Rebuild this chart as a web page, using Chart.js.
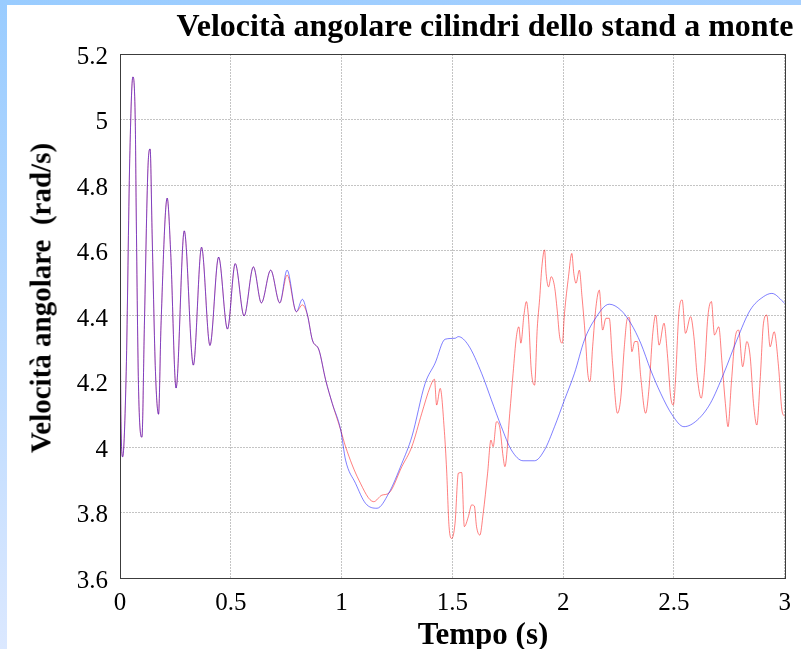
<!DOCTYPE html>
<html>
<head>
<meta charset="utf-8">
<title>Velocità angolare cilindri dello stand a monte</title>
<script src="https://cdn.jsdelivr.net/npm/chart.js@4.4.1/dist/chart.umd.min.js"></script>
<style>
  html, body { margin: 0; padding: 0; background: #fff; }
  #wrap { position: relative; width: 801px; height: 649px; overflow: hidden; background: #fff; }
  #bandTop { position: absolute; left: 0; top: 0; width: 801px; height: 5px; background: linear-gradient(to right, #99ccff, #a6d0ff); }
  #bandLeft { position: absolute; left: 0; top: 0; width: 7px; height: 649px; background: linear-gradient(#99ccff, #dbe8ff); }
  #plot { position: absolute; left: 0; top: 0; }
  .lbl { position: absolute; font-family: "Liberation Serif", "Times New Roman", serif; font-weight: bold;
         font-size: 31px; line-height: 1; color: #000; white-space: pre; }
  #title { left: 485px; top: 25px; font-size: 32px; transform: translate(-50%, -50%); }
  #xlab { left: 483px; top: 633px; transform: translate(-50%, -50%); }
  #ylab { left: 41px; top: 298px; font-size: 29px; transform: translate(-50%, -50%) rotate(-90deg); }
</style>
</head>
<body>
<div id="wrap">
  <div id="bandTop"></div>
  <div id="bandLeft"></div>
  <canvas id="plot" width="801" height="649"></canvas>
  <div class="lbl" id="title">Velocità angolare cilindri dello stand a monte</div>
  <div class="lbl" id="xlab">Tempo (s)</div>
  <div class="lbl" id="ylab">Velocità angolare  (rad/s)</div>
</div>
<script>
// transitorio iniziale, uguale per le due curve
const tComune = [0, 0.004, 0.012, 0.028, 0.044, 0.058, 0.069, 0.073, 0.084, 0.099, 0.110, 0.126, 0.136,
  0.145, 0.160, 0.174, 0.185, 0.213, 0.229, 0.253, 0.290, 0.331, 0.368, 0.406, 0.445, 0.485, 0.520,
  0.560, 0.602, 0.638, 0.680, 0.721];
const vComune = [4.58, 4.10, 3.97, 4.23, 4.88, 5.13, 4.99, 4.73, 4.17, 4.03, 4.37, 4.85, 4.91,
  4.65, 4.23, 4.10, 4.37, 4.76, 4.59, 4.18, 4.66, 4.25, 4.61, 4.31, 4.58, 4.36, 4.56,
  4.40, 4.55, 4.44, 4.54, 4.44];

// curva rossa
const tRosso = [0.754, 0.796, 0.823, 0.846, 0.868, 0.898, 0.928, 0.958, 0.996, 1.018, 1.078, 1.145, 1.182,
  1.213, 1.272, 1.317, 1.362, 1.400, 1.419, 1.429, 1.445, 1.464, 1.474, 1.485, 1.497, 1.512, 1.527,
  1.542, 1.554, 1.572, 1.587, 1.599, 1.609, 1.624, 1.639, 1.659, 1.674, 1.684, 1.699, 1.714, 1.729,
  1.737, 1.759, 1.774, 1.789, 1.800, 1.809, 1.823, 1.834, 1.844, 1.856, 1.871, 1.883, 1.894, 1.904,
  1.916, 1.923, 1.934, 1.946, 1.961, 1.973, 1.984, 1.996, 2.006, 2.024, 2.039, 2.048, 2.058, 2.073,
  2.085, 2.100, 2.111, 2.121, 2.133, 2.148, 2.163, 2.178, 2.193, 2.208, 2.223, 2.245, 2.260, 2.276,
  2.290, 2.299, 2.310, 2.323, 2.335, 2.350, 2.372, 2.388, 2.403, 2.418, 2.433, 2.455, 2.470, 2.485,
  2.497, 2.507, 2.522, 2.537, 2.552, 2.575, 2.590, 2.605, 2.623, 2.638, 2.653, 2.669, 2.683, 2.702,
  2.717, 2.732, 2.744, 2.759, 2.777, 2.792, 2.810, 2.829, 2.844, 2.859, 2.874, 2.889, 2.904, 2.919,
  2.934, 2.952, 2.972, 2.987, 3.000];
const vRosso = [4.525, 4.413, 4.434, 4.403, 4.327, 4.296, 4.205, 4.133, 4.052, 4.001, 3.899, 3.833, 3.853,
  3.859, 3.940, 4.001, 4.103, 4.184, 4.207, 4.128, 4.179, 4.047, 3.930, 3.757, 3.721, 3.767, 3.920,
  3.922, 3.757, 3.787, 3.823, 3.820, 3.757, 3.731, 3.797, 3.920, 4.021, 4.001, 4.077, 4.060, 3.970,
  3.940, 4.103, 4.225, 4.337, 4.367, 4.317, 4.403, 4.444, 4.390, 4.235, 4.189, 4.362, 4.454, 4.551,
  4.602, 4.530, 4.489, 4.520, 4.490, 4.418, 4.337, 4.317, 4.408, 4.520, 4.591, 4.530, 4.500, 4.540,
  4.459, 4.337, 4.225, 4.200, 4.306, 4.428, 4.479, 4.357, 4.393, 4.393, 4.256, 4.103, 4.150, 4.306,
  4.393, 4.395, 4.291, 4.322, 4.322, 4.215, 4.103, 4.184, 4.337, 4.403, 4.311, 4.378, 4.286, 4.154,
  4.128, 4.205, 4.408, 4.449, 4.347, 4.398, 4.337, 4.215, 4.149, 4.235, 4.398, 4.444, 4.342, 4.367,
  4.256, 4.133, 4.062, 4.195, 4.337, 4.357, 4.245, 4.322, 4.276, 4.133, 4.067, 4.205, 4.378, 4.403,
  4.306, 4.352, 4.245, 4.113, 4.093];

// curva blu
const tBlu = [0.754, 0.796, 0.823, 0.846, 0.868, 0.898, 0.928, 0.958, 0.996, 1.018, 1.063, 1.108, 1.160,
  1.213, 1.272, 1.317, 1.377, 1.422, 1.467, 1.512, 1.527, 1.572, 1.632, 1.676, 1.721, 1.766, 1.819,
  1.871, 1.916, 1.961, 2.006, 2.051, 2.096, 2.141, 2.208, 2.260, 2.305, 2.350, 2.395, 2.440, 2.492,
  2.545, 2.605, 2.664, 2.725, 2.784, 2.844, 2.904, 2.942, 3.000];
const vBlu = [4.540, 4.413, 4.451, 4.403, 4.327, 4.296, 4.205, 4.133, 4.052, 3.960, 3.889, 3.828, 3.813,
  3.859, 3.950, 4.031, 4.194, 4.256, 4.329, 4.332, 4.337, 4.311, 4.225, 4.144, 4.062, 3.991, 3.958,
  3.958, 3.991, 4.062, 4.144, 4.225, 4.327, 4.388, 4.436, 4.418, 4.378, 4.317, 4.235, 4.164, 4.098,
  4.062, 4.082, 4.133, 4.225, 4.327, 4.418, 4.459, 4.469, 4.439];

const xTicks = [0, 0.5, 1, 1.5, 2, 2.5, 3];
const yTicks = [3.6, 3.8, 4, 4.2, 4.4, 4.6, 4.8, 5, 5.2];

function punti(t, v) {
  return t.map((x, i) => ({ x: x, y: v[i] }));
}

const datiRosso = punti(tComune.concat(tRosso), vComune.concat(vRosso));
const datiBlu = punti(tComune.concat(tBlu), vComune.concat(vBlu));

// cornice attorno all'area del grafico
const cornice = {
  id: 'cornice',
  afterDraw(chart) {
    const a = chart.chartArea;
    const ctx = chart.ctx;
    ctx.save();
    ctx.strokeStyle = '#3c3c3c';
    ctx.lineWidth = 1;
    ctx.strokeRect(Math.round(a.left) + 0.5, Math.round(a.top) + 0.5,
      Math.round(a.right - a.left), Math.round(a.bottom - a.top));
    ctx.restore();
  }
};

const fontTick = { family: '"Liberation Serif", "Times New Roman", serif', size: 25 };

new Chart(document.getElementById('plot'), {
  type: 'line',
  data: {
    // il primo dataset viene disegnato sopra: blu sopra il rosso
    datasets: [{
      label: 'blu',
      data: datiBlu,
      borderColor: 'rgba(0, 0, 255, 0.5)',
      borderWidth: 1,
      pointRadius: 0,
      cubicInterpolationMode: 'monotone'
    }, {
      label: 'rosso',
      data: datiRosso,
      borderColor: 'rgba(255, 0, 0, 0.5)',
      borderWidth: 1,
      pointRadius: 0,
      cubicInterpolationMode: 'monotone'
    }]
  },
  options: {
    responsive: false,
    animation: false,
    layout: { padding: { left: 0, top: 54, right: 13, bottom: 0 } },
    plugins: { legend: { display: false }, tooltip: { enabled: false } },
    scales: {
      x: {
        type: 'linear',
        min: 0,
        max: 3,
        afterBuildTicks: s => { s.ticks = xTicks.map(v => ({ value: v })); },
        afterFit: s => { s.height = 71; },
        ticks: { color: '#000', font: fontTick, padding: 10, maxRotation: 0, callback: v => String(v) },
        grid: { color: '#c4c4c4', drawTicks: false },
        border: { display: false, dash: [2, 1] }
      },
      y: {
        min: 3.6,
        max: 5.2,
        afterBuildTicks: s => { s.ticks = yTicks.map(v => ({ value: v })); },
        afterFit: s => { s.width = 120; },
        ticks: { color: '#000', font: fontTick, padding: 12, labelOffset: 3,
                 callback: v => String(Number(v.toFixed(1))) },
        grid: { color: '#c4c4c4', drawTicks: false },
        border: { display: false, dash: [2, 1] }
      }
    }
  },
  plugins: [cornice]
});
</script>
</body>
</html>
